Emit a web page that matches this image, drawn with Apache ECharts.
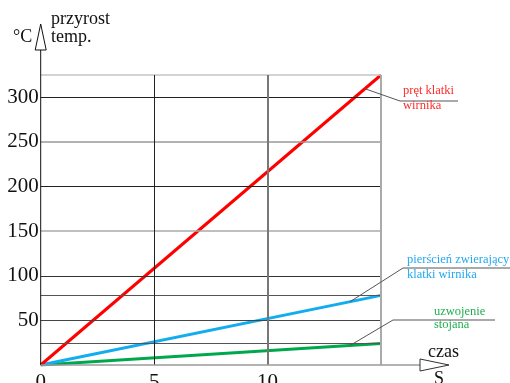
<!DOCTYPE html>
<html>
<head>
<meta charset="utf-8">
<script src="https://cdn.jsdelivr.net/npm/echarts@6/dist/echarts.min.js"></script>
<style>
  html, body { margin: 0; padding: 0; background: #fff; }
  #chart { width: 510px; height: 383px; }
</style>
</head>
<body>
<div id="chart"></div>
<script>
// Time axis (s) and temperature rise (°C) of the three motor parts
const time = [0, 15];
const pretKlatki = [0, 325];      // pręt klatki wirnika
const pierscien = [0, 78];        // pierścień zwierający klatki wirnika
const uzwojenie = [0, 24];        // uzwojenie stojana

const xTickLabels = [0, 5, 10];
const yTickLabels = [50, 100, 150, 200, 250, 300];
const xGridLines = [5, 10, 15];

const SERIF = '"Liberation Serif", "Times New Roman", serif';

const toPairs = (xs, ys) => xs.map((x, i) => [x, ys[i]]);
const lastOf = a => a[a.length - 1];

// horizontal reference lines: every 50 °C plus the final value of each curve
const hStyle = {
  24: ['#555', 1], 50: ['#444', 1], 78: ['#555', 1], 100: ['#333', 1],
  150: ['#aaa', 1.5], 200: ['#222', 1], 250: ['#999', 1.5], 300: ['#222', 1],
  325: ['#c4c4c4', 1.5]
};
const vStyle = { 5: ['#222', 1], 10: ['#777', 2], 15: ['#aaa', 2] };

const hLines = [...yTickLabels, lastOf(uzwojenie), lastOf(pierscien), lastOf(pretKlatki)];
const xMax = lastOf(time), yMax = lastOf(pretKlatki);

const gridMarks = [];
hLines.forEach(v => {
  const s = hStyle[v] || ['#555', 1];
  gridMarks.push([
    { coord: [0, v], lineStyle: { color: s[0], width: s[1], type: 'solid' } },
    { coord: [xMax, v] }
  ]);
});
xGridLines.forEach(v => {
  const s = vStyle[v];
  gridMarks.push([
    { coord: [v, 0], lineStyle: { color: s[0], width: s[1], type: 'solid' } },
    { coord: [v, yMax] }
  ]);
});

const chart = echarts.init(document.getElementById('chart'), null, { renderer: 'canvas' });

const option = {
  animation: false,
  backgroundColor: '#fff',
  grid: { left: 40.7, right: 129, top: 75, bottom: 18, containLabel: false, outerBoundsMode: 'none' },
  xAxis: {
    type: 'value', min: 0, max: xMax, interval: 5,
    axisLine: { show: false }, axisTick: { show: false }, splitLine: { show: false },
    axisLabel: {
      margin: 7, fontSize: 21, fontFamily: SERIF, color: '#111',
      formatter: v => (xTickLabels.indexOf(v) >= 0 ? String(v) : '')
    }
  },
  yAxis: {
    type: 'value', min: 0, max: yMax, interval: 50,
    axisLine: { show: false }, axisTick: { show: false }, splitLine: { show: false },
    axisLabel: {
      margin: 2, fontSize: 21, fontFamily: SERIF, color: '#111',
      formatter: v => (yTickLabels.indexOf(v) >= 0 ? String(v) : '')
    }
  },
  series: [
    {
      name: 'siatka', type: 'line', data: [[0, 0]], z: 1,
      showSymbol: false, symbol: 'none', lineStyle: { opacity: 0 },
      markLine: { silent: true, symbol: 'none', label: { show: false }, animation: false, data: gridMarks }
    },
    {
      name: 'uzwojenie stojana', type: 'line', data: toPairs(time, uzwojenie), z: 3,
      symbol: 'none', lineStyle: { color: '#00a84c', width: 3 }
    },
    {
      name: 'pierścień zwierający klatki wirnika', type: 'line', data: toPairs(time, pierscien), z: 3,
      symbol: 'none', lineStyle: { color: '#12acef', width: 3 }
    },
    {
      name: 'pręt klatki wirnika', type: 'line', data: toPairs(time, pretKlatki), z: 3,
      symbol: 'none', lineStyle: { color: '#ff0000', width: 3 }
    }
  ]
};
chart.setOption(option);

// axes with arrows, captions and leader lines
const px = p => chart.convertToPixel({ gridIndex: 0 }, p);
const origin = px([0, 0]);
const yTop = px([0, yMax]);
const xEnd = px([xMax, 0]);
const onLine = (ys, x) => px([x, ys[0] + (lastOf(ys) - ys[0]) * x / xMax]);

const leaderColor = '#555';
const txt = (x, y, text, color, size, align) => ({
  type: 'text', z: 10,
  style: { x, y, text, fill: color, font: size + 'px ' + SERIF, align: align || 'left', verticalAlign: 'middle' }
});
const seg = (x1, y1, x2, y2, color, w) => ({
  type: 'line', z: 9, shape: { x1, y1, x2, y2 }, style: { stroke: color, lineWidth: w || 1 }
});

const yArrowBase = yTop[1] - 25, yArrowTip = yTop[1] - 51;
const xArrowBase = xEnd[0] + 39, xArrowTip = xEnd[0] + 68;

const aRed = onLine(pretKlatki, 14.29);
const aBlue = onLine(pierscien, 13.63);
const aGreen = onLine(uzwojenie, 13.63);

const NOTE = 12.5;

chart.setOption({
  graphic: [
    // y axis with hollow arrow
    seg(origin[0], origin[1], origin[0], yArrowBase, '#111', 1),
    { type: 'polygon', z: 9, shape: { points: [[origin[0] - 5.5, yArrowBase], [origin[0], yArrowTip], [origin[0] + 5.5, yArrowBase]] },
      style: { fill: '#fff', stroke: '#111', lineWidth: 1 } },
    // x axis with hollow arrow
    seg(origin[0], origin[1], xArrowBase, origin[1], '#9a9a9a', 1.5),
    { type: 'polygon', z: 9, shape: { points: [[xArrowBase, origin[1] - 6], [xArrowTip, origin[1]], [xArrowBase, origin[1] + 6]] },
      style: { fill: '#fff', stroke: '#333', lineWidth: 1 } },
    txt(13, 37, '°C', '#111', 18),
    txt(51, 19, 'przyrost', '#111', 18),
    txt(51, 37, 'temp.', '#111', 18),
    txt(428, 352, 'czas', '#111', 18),
    txt(434, 379, 'S', '#111', 18),

    // red curve label
    seg(aRed[0], aRed[1], 400, 101, leaderColor, 1),
    seg(400, 101, 458, 101, leaderColor, 1),
    txt(403, 91, 'pręt klatki', '#ff2a2a', NOTE),
    txt(403, 106, 'wirnika', '#ff2a2a', NOTE),

    // blue curve label
    seg(aBlue[0], aBlue[1], 403, 268, leaderColor, 1),
    seg(403, 268, 510, 268, leaderColor, 1),
    txt(407, 260, 'pierścień zwierający', '#22a8ee', NOTE),
    txt(407, 274.5, 'klatki wirnika', '#22a8ee', NOTE),

    // green curve label
    seg(aGreen[0], aGreen[1], 393, 320, leaderColor, 1),
    seg(393, 320, 495, 320, leaderColor, 1),
    txt(434, 311.5, 'uzwojenie', '#1fae4f', NOTE),
    txt(434, 324.5, 'stojana', '#1fae4f', NOTE)
  ]
});
</script>
</body>
</html>
